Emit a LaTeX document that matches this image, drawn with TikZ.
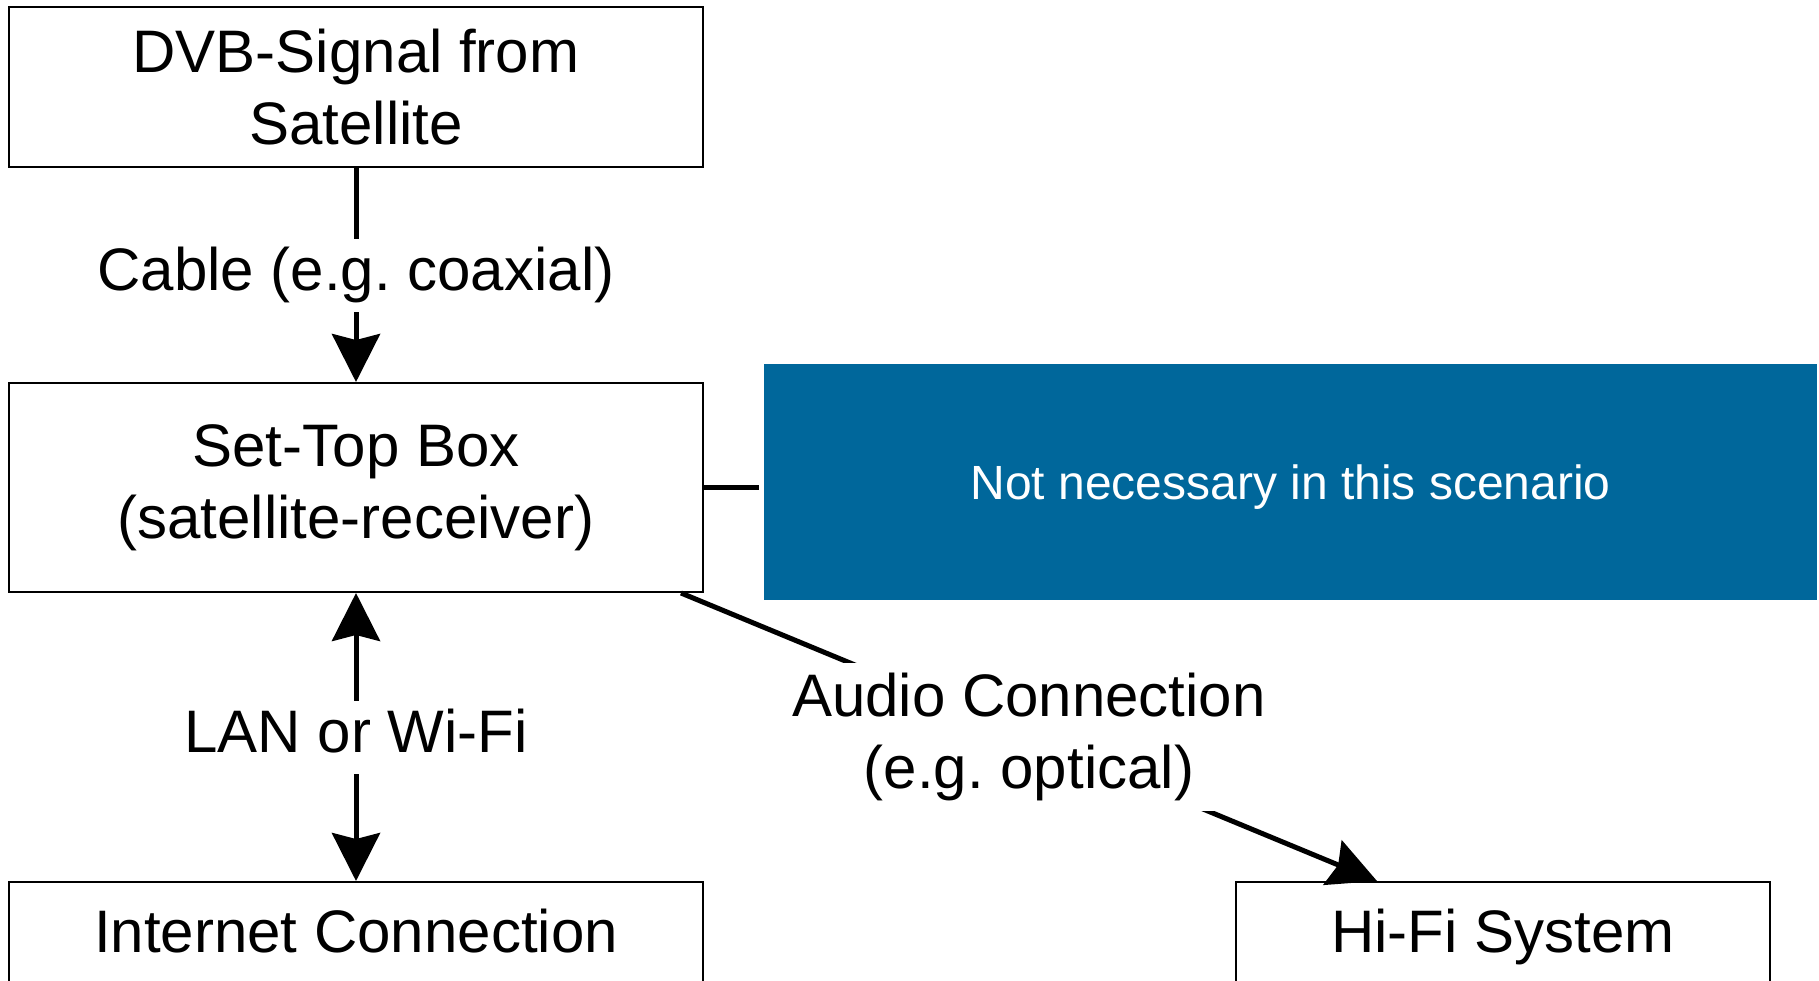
\documentclass[tikz,border=0pt]{standalone}
\usepackage{fontspec}
\setmainfont{Liberation Sans}
\usetikzlibrary{arrows.meta}
\definecolor{bluebox}{RGB}{0,103,155}
\frenchspacing
\begin{document}
\begin{tikzpicture}[x=0.5pt,y=-0.5pt,
  box/.style={draw=black, line width=1pt, minimum width=347pt, inner sep=0pt, align=center, font=\fontsize{30}{36}\selectfont},
  onebox/.style={box, text height=22pt, text depth=3.5pt},
  conn/.style={line width=2.5pt},
  tipa/.tip={Stealth[length=24pt,width=24pt,inset=3pt]},
  lbl/.style={fill=white, inner sep=4pt, text height=22pt, text depth=6.5pt, font=\fontsize{30}{36}\selectfont},
  lbltwo/.style={fill=white, inner sep=5pt, align=center, font=\fontsize{30}{36}\selectfont}
]
\useasboundingbox (0,0) rectangle (1819,980);
\node[box, minimum height=80pt] (dvb) at (356,87) {DVB-Signal from\\Satellite};
\node[box, minimum height=104.5pt] (stb) at (356,487.5) {Set-Top Box\\(satellite-receiver)};
\node[onebox, minimum height=51.5pt] (inet) at (356,933.5) {Internet Connection};
\node[onebox, minimum width=267pt, minimum height=51.5pt] (hifi) at (1503,933.5) {Hi-Fi System};
\node[fill=bluebox, minimum width=526.5pt, minimum height=118pt, inner sep=0pt, text height=17.5pt, text depth=0pt, text=white, font=\fontsize{24}{29}\selectfont] (nn) at (1290.5,482) {Not necessary in this scenario};

\draw[conn, -tipa] (dvb) -- node[lbl] {Cable (e.g. coaxial)} (stb);
\draw[conn, tipa-tipa] (stb) -- node[lbl] {LAN or Wi-Fi} (inet);
\draw[conn, shorten >=2.5pt] (stb.east) -- (stb.east -| nn.west);
\coordinate (a0) at ([xshift=-11.5pt]stb.south east);
\coordinate (a1) at ([xshift=71pt]hifi.north west);
\draw[conn, -tipa] (a0) -- node[lbltwo] {Audio Connection\\(e.g. optical)} (a1);
\end{tikzpicture}
\end{document}
